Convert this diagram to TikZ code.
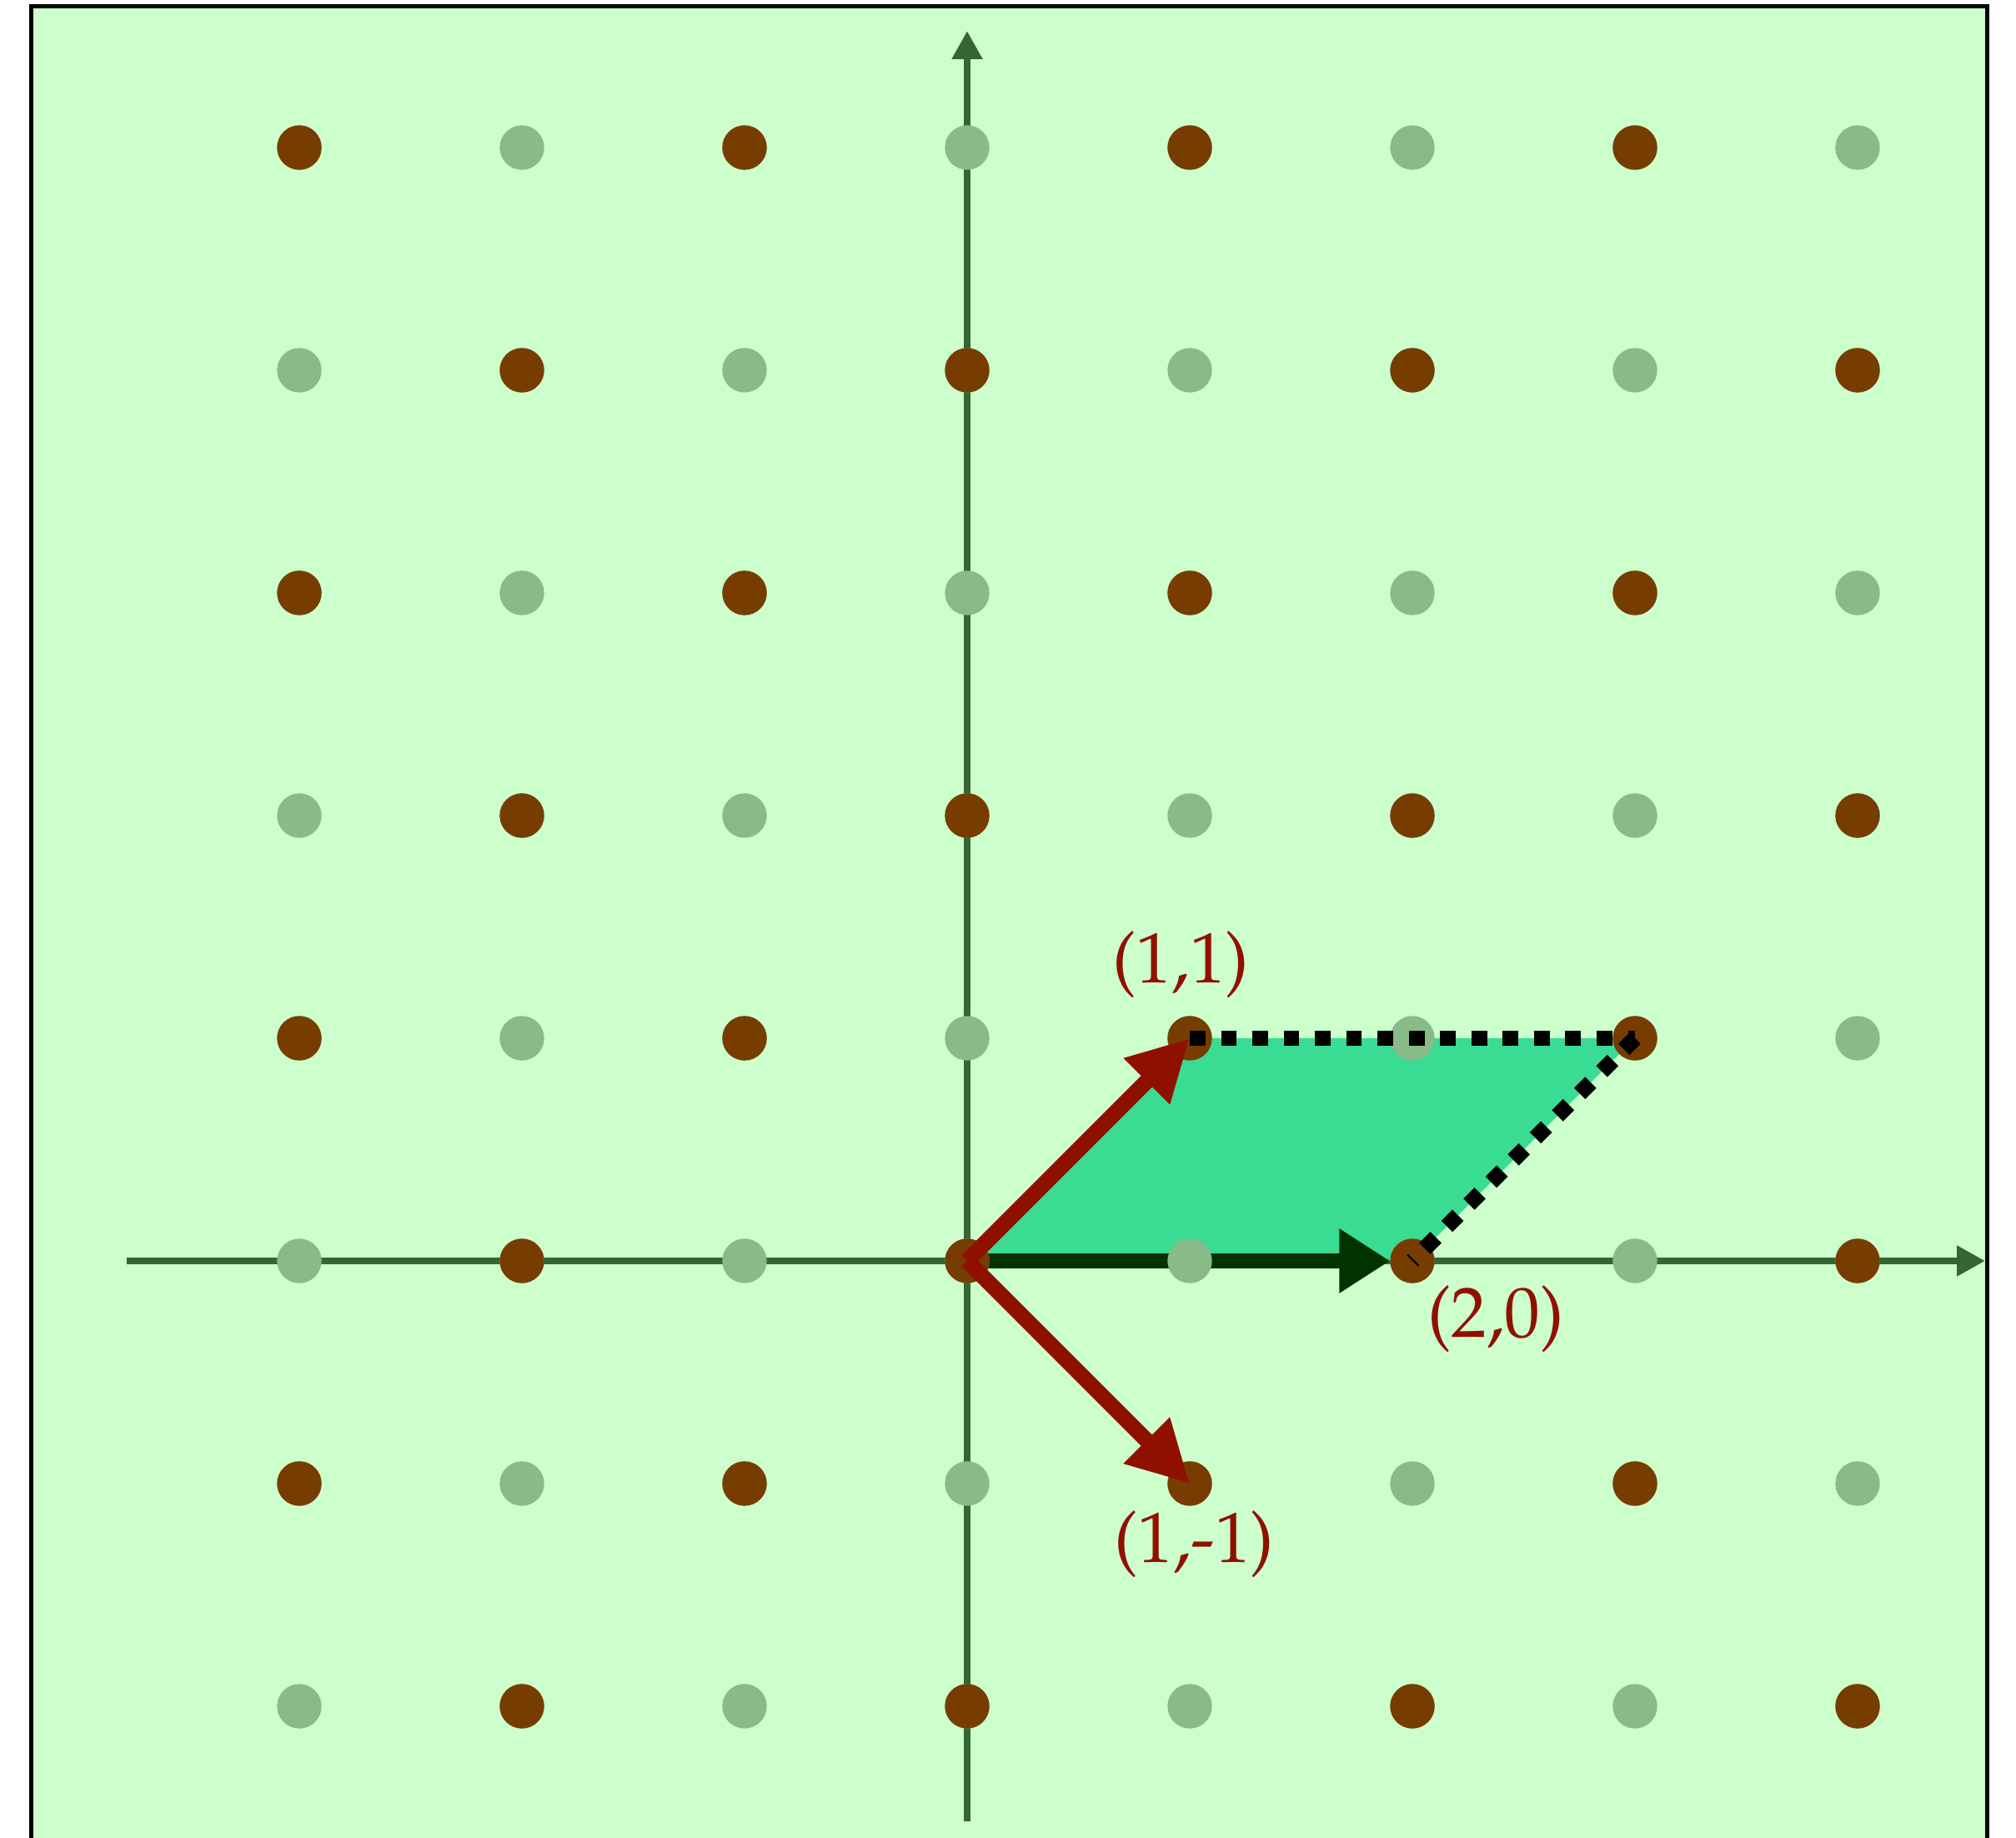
\documentclass[tikz,border=0pt]{standalone}
\usepackage[T1]{fontenc}
\usepackage{mathpazo}
\usetikzlibrary{arrows.meta}
\definecolor{bgc}{HTML}{CCFFCC}
\definecolor{dotg}{HTML}{88BB88}
\definecolor{dotb}{HTML}{773D00}
\definecolor{axisc}{HTML}{336633}
\definecolor{vecred}{HTML}{901000}
\definecolor{fillc}{HTML}{3ADB92}
\definecolor{darkg}{HTML}{003300}
\tikzset{
  axisline/.style={axisc, line width=0.9pt, -{Triangle[length=3.6pt,width=3.7pt]}},
  redvec/.style={vecred, line width=2pt, -{Triangle[length=7.8pt,width=7.8pt]}},
  greenvec/.style={darkg, line width=1.9pt, -{Triangle[length=6.5pt,width=7.8pt]}},
  dotline/.style={black, line width=2pt, dash pattern=on 2pt off 2pt},
  lbl/.style={text=vecred, font=\fontsize{9.1}{10}\selectfont, inner sep=0pt},
  gdot/.style={fill=dotg},
  bdot/.style={fill=dotb},
}
\begin{document}
\begin{tikzpicture}
\useasboundingbox (-4.3446,-2.5918) rectangle (4.7116,5.663);
\begin{scope}
  \clip (-4.3446,-2.5918) rectangle (4.7116,5.663);
  \draw[line width=0.53pt, fill=bgc] (-4.204,-3) rectangle (4.584,5.635);
\end{scope}
% points
\coordinate (O) at (0,0);
\coordinate (A) at (1,1);
\coordinate (B) at (1,-1);
\coordinate (C) at (2,0);
\coordinate (D) at (3,1);
\coordinate (xs) at (-3.775,0);
\coordinate (xe) at (4.573,0);
\coordinate (ys) at (0,-2.517);
\coordinate (ye) at (0,5.524);
% axes
\draw[axisline] (xs) -- (xe);
\draw[axisline] (ys) -- (ye);
% parallelogram
\fill[fillc] (O) -- (A) -- (D) -- (C) -- cycle;
\draw[greenvec, shorten >=0.1cm] (O) -- (C);
% lattice
\foreach \x in {-3,...,4} {
  \foreach \y in {-2,...,5} {
    \path[gdot] (\x,\y) circle (0.1);
  }
}
\foreach \x in {-3,...,4} {
  \foreach \y in {-2,...,5} {
    \pgfmathtruncatemacro{\parity}{mod(\x+\y+10,2)}
    \ifnum\parity=0 \path[bdot] (\x,\y) circle (0.1); \fi
  }
}
% vectors
\draw[redvec] (O) -- (A);
\draw[redvec] (O) -- (B);
\draw[dotline] (A) -- (D);
\draw[dotline] (D) -- (C);
% labels
\node[lbl] (la) at (0.96,1.33) {(1,1)};
\node[lbl] (lc) at (2.375,-0.26) {(2,0)};
\node[lbl] (lb) at (1.02,-1.27) {(1,-1)};
\end{tikzpicture}
\end{document}
